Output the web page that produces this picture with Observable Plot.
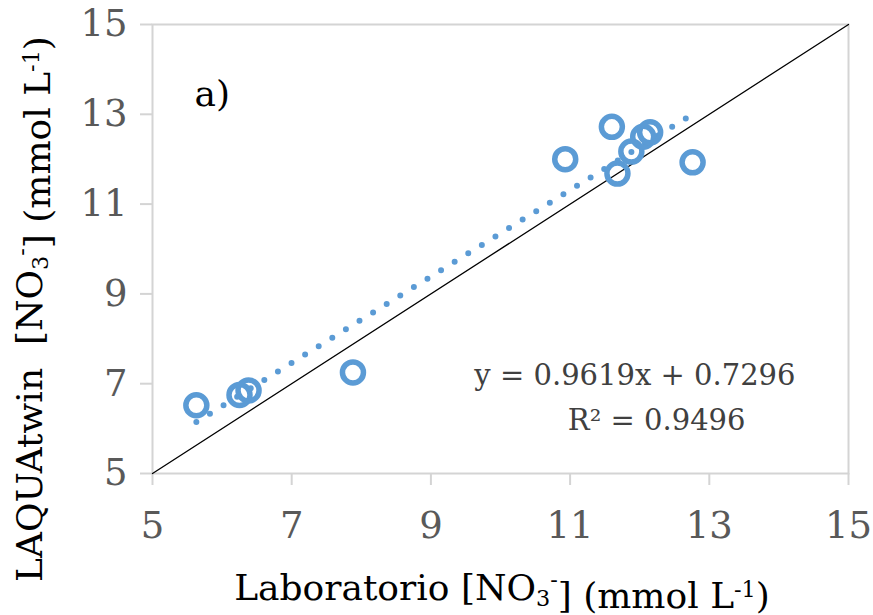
<!DOCTYPE html>
<html><head>
<meta charset="utf-8">
<script src="https://cdn.jsdelivr.net/npm/d3@7"></script>
<script src="https://cdn.jsdelivr.net/npm/@observablehq/plot@0.6"></script>
<style>body{margin:0;background:#fff}</style>
</head><body><div id="chart"></div>
<script>
// Data
const labX   = [5.63, 6.25, 6.38, 7.88, 10.93, 11.60, 11.68, 11.88, 12.05, 12.15, 12.76];
const laquaY = [6.52, 6.75, 6.85, 7.25, 12.00, 12.72, 11.68, 12.17, 12.50, 12.60, 11.93];
const axisDomain = [5, 15];
const xTicks = [5, 7, 9, 11, 13, 15];
const yTicks = [5, 7, 9, 11, 13, 15];
const slope = 0.9619, intercept = 0.7296, r2 = 0.9496;
const panelLabel = "a)";

const points = labX.map((x, i) => ({x, y: laquaY[i]}));
const trend = d3.extent(labX).map(x => ({x, y: slope * x + intercept}));
const identity = axisDomain.map(v => ({x: v, y: v}));
const eq1 = `y = ${slope}x + ${intercept}`;
const eq2 = `R² = ${r2}`;

const blue = "#5B9BD5";
const grid = "#d4d4d4";
const font = "DejaVu Serif";

const plot = Plot.plot({
  width: 873, height: 615,
  marginLeft: 152, marginRight: 25, marginTop: 24, marginBottom: 142,
  style: {fontFamily: font, fontSize: "37px", background: "#fff"},
  x: {domain: axisDomain},
  y: {domain: axisDomain},
  marks: [
    Plot.frame({stroke: grid, strokeWidth: 2}),
    Plot.axisX({ticks: xTicks, tickSize: 12, tickPadding: 26, stroke: grid, strokeWidth: 2, fill: "#595959", label: null, tickFormat: d => d}),
    Plot.axisY({ticks: yTicks, tickSize: 12, tickPadding: 13, stroke: grid, strokeWidth: 2, fill: "#595959", label: null, tickFormat: d => d}),
    Plot.line(identity, {x: "x", y: "y", stroke: "#000", strokeWidth: 1.3}),
    Plot.line(trend, {x: "x", y: "y", stroke: blue, strokeWidth: 6, strokeDasharray: "0 16", strokeLinecap: "round"}),
    Plot.dot(points, {x: "x", y: "y", r: 10.5, stroke: blue, strokeWidth: 5.5, fill: "none"}),
    Plot.text([panelLabel], {frameAnchor: "top-left", dx: 42, dy: 56, fontSize: 36, fill: "#000", textAnchor: "start"}),
    Plot.text([eq1], {frameAnchor: "bottom-right", dx: -53, dy: -89, fontSize: 29, fill: "#404040", textAnchor: "end"}),
    Plot.text([eq2], {frameAnchor: "bottom-right", dx: -103, dy: -44, fontSize: 29, fill: "#404040", textAnchor: "end"})
  ]
});
document.getElementById("chart").appendChild(plot);

// Axis titles with sub/superscripts
const svg = d3.select(plot);
function title(sel, parts) {
  for (const [txt, kind] of parts) {
    const t = sel.append("tspan").text(txt);
    if (kind === "sub") t.attr("font-size", "0.62em").attr("dy", "0.28em");
    else if (kind === "subsup") t.attr("font-size", "0.62em").attr("dy", "-0.85em");
    else if (kind === "sup") t.attr("font-size", "0.62em").attr("dy", "-0.5em");
    else if (kind === "back") t.attr("dy", "0.57em");
    else if (kind === "backsup") t.attr("dy", "0.31em");
  }
}
const xt = svg.append("text")
  .attr("x", 502).attr("y", 600)
  .attr("text-anchor", "middle").attr("fill", "#000")
  .style("font-family", font).style("font-size", "36px");
title(xt, [["Laboratorio [NO"], ["3", "sub"], ["-", "subsup"], ["] (mmol L", "back"], ["-1", "sup"], [")", "backsup"]]);

const yt = svg.append("text")
  .attr("transform", "translate(42,309) rotate(-90)")
  .attr("text-anchor", "middle").attr("fill", "#000")
  .style("font-family", font).style("font-size", "36px");
title(yt, [["LAQUAtwin\u00a0 [NO"], ["3", "sub"], ["-", "subsup"], ["] (mmol L", "back"], ["-1", "sup"], [")", "backsup"]]);
</script>
</body></html>
